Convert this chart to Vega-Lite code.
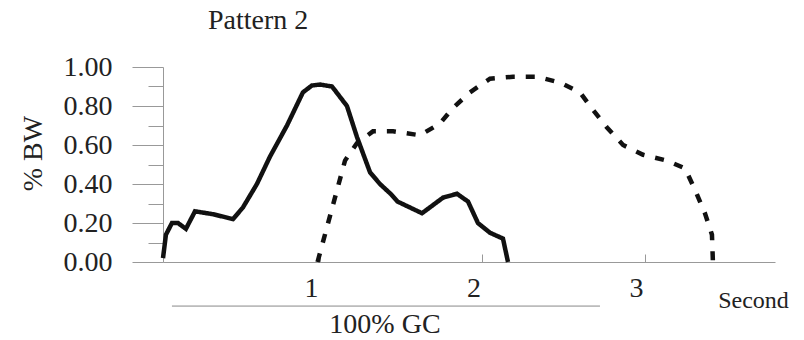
{
  "$schema": "https://vega.github.io/schema/vega-lite/v6.json",
  "width": 612,
  "height": 195,
  "autosize": "none",
  "padding": {"left": 163, "top": 67, "right": 29, "bottom": 78},
  "background": "white",
  "config": {"font": "Liberation Serif", "view": {"stroke": null}},
  "title": {"text": "Pattern 2", "anchor": "start", "frame": "group", "dx": 45, "offset": -4, "baseline": "alphabetic", "fontSize": 28, "fontWeight": "normal", "color": "#222", "font": "Liberation Serif"},
  "datasets": {
    "curves": [
      {"t": 0.034, "bw": 0.02, "series": "solid"},
      {"t": 0.052, "bw": 0.14, "series": "solid"},
      {"t": 0.089, "bw": 0.20, "series": "solid"},
      {"t": 0.126, "bw": 0.20, "series": "solid"},
      {"t": 0.175, "bw": 0.17, "series": "solid"},
      {"t": 0.231, "bw": 0.26, "series": "solid"},
      {"t": 0.342, "bw": 0.245, "series": "solid"},
      {"t": 0.465, "bw": 0.22, "series": "solid"},
      {"t": 0.526, "bw": 0.28, "series": "solid"},
      {"t": 0.612, "bw": 0.40, "series": "solid"},
      {"t": 0.692, "bw": 0.54, "series": "solid"},
      {"t": 0.797, "bw": 0.70, "series": "solid"},
      {"t": 0.895, "bw": 0.87, "series": "solid"},
      {"t": 0.95, "bw": 0.905, "series": "solid"},
      {"t": 1.0, "bw": 0.91, "series": "solid"},
      {"t": 1.074, "bw": 0.90, "series": "solid"},
      {"t": 1.166, "bw": 0.80, "series": "solid"},
      {"t": 1.228, "bw": 0.64, "series": "solid"},
      {"t": 1.308, "bw": 0.46, "series": "solid"},
      {"t": 1.369, "bw": 0.40, "series": "solid"},
      {"t": 1.434, "bw": 0.35, "series": "solid"},
      {"t": 1.477, "bw": 0.31, "series": "solid"},
      {"t": 1.628, "bw": 0.25, "series": "solid"},
      {"t": 1.757, "bw": 0.33, "series": "solid"},
      {"t": 1.843, "bw": 0.35, "series": "solid"},
      {"t": 1.911, "bw": 0.31, "series": "solid"},
      {"t": 1.972, "bw": 0.20, "series": "solid"},
      {"t": 2.046, "bw": 0.15, "series": "solid"},
      {"t": 2.126, "bw": 0.12, "series": "solid"},
      {"t": 2.157, "bw": 0.0, "series": "solid"},
      {"t": 0.985, "bw": 0.0, "series": "dashed"},
      {"t": 1.154, "bw": 0.52, "series": "dashed"},
      {"t": 1.228, "bw": 0.61, "series": "dashed"},
      {"t": 1.326, "bw": 0.67, "series": "dashed"},
      {"t": 1.45, "bw": 0.67, "series": "dashed"},
      {"t": 1.615, "bw": 0.65, "series": "dashed"},
      {"t": 1.738, "bw": 0.71, "series": "dashed"},
      {"t": 1.818, "bw": 0.79, "series": "dashed"},
      {"t": 1.923, "bw": 0.87, "series": "dashed"},
      {"t": 2.046, "bw": 0.94, "series": "dashed"},
      {"t": 2.188, "bw": 0.95, "series": "dashed"},
      {"t": 2.335, "bw": 0.95, "series": "dashed"},
      {"t": 2.477, "bw": 0.92, "series": "dashed"},
      {"t": 2.6, "bw": 0.87, "series": "dashed"},
      {"t": 2.68, "bw": 0.78, "series": "dashed"},
      {"t": 2.766, "bw": 0.69, "series": "dashed"},
      {"t": 2.865, "bw": 0.60, "series": "dashed"},
      {"t": 2.988, "bw": 0.55, "series": "dashed"},
      {"t": 3.135, "bw": 0.52, "series": "dashed"},
      {"t": 3.246, "bw": 0.48, "series": "dashed"},
      {"t": 3.308, "bw": 0.37, "series": "dashed"},
      {"t": 3.369, "bw": 0.25, "series": "dashed"},
      {"t": 3.412, "bw": 0.14, "series": "dashed"},
      {"t": 3.418, "bw": 0.0, "series": "dashed"}
    ],
    "bracket": [
      {"t": 0.089, "t2": 2.723, "bw": -0.226, "label": "100% GC", "tm": 1.40, "ly": -0.325}
    ]
  },
  "resolve": {"axis": {"y": "independent"}},
  "layer": [
    {
      "data": {"name": "curves"},
      "mark": {"type": "line", "strokeWidth": 4.5, "color": "#111", "clip": false},
      "encoding": {
        "x": {"field": "t", "type": "quantitative", "scale": {"domain": [0.034, 3.8], "nice": false, "zero": false},
          "axis": {"values": [1, 2, 3], "format": ".0f", "tickSize": -8, "tickColor": "#999", "domainColor": "#999", "grid": false,
            "labelFontSize": 28, "labelColor": "#222", "labelPadding": 20, "labelOffset": -9, "labelFont": "Liberation Serif",
            "title": "Second", "titleFontSize": 24, "titleFontWeight": "normal", "titleColor": "#222", "titleFont": "Liberation Serif",
            "titleX": 590, "titleY": 38, "titleAlign": "center", "titleBaseline": "middle"}},
        "y": {"field": "bw", "type": "quantitative", "scale": {"domain": [0, 1], "nice": false},
          "axis": {"values": [0, 0.2, 0.4, 0.6, 0.8, 1], "format": ".2f", "tickSize": 31, "labelPadding": 20, "tickColor": "#999", "domainColor": "#999", "grid": false,
            "labelFontSize": 28, "labelColor": "#222", "labelFont": "Liberation Serif",
            "title": "% BW", "titleX": -130, "titleY": 86, "titleAngle": -90, "titleFontSize": 28, "titleFontWeight": "normal", "titleColor": "#222", "titleFont": "Liberation Serif", "titleAlign": "center", "titleBaseline": "middle"}},
        "detail": {"field": "series"},
        "strokeDash": {"field": "series", "type": "nominal", "scale": {"domain": ["solid", "dashed"], "range": [[1, 0], [9, 11]]}, "legend": null}
      }
    },
    {
      "data": {"name": "bracket"},
      "mark": {"type": "rule", "color": "#888", "strokeWidth": 1, "clip": false},
      "encoding": {
        "x": {"field": "t", "type": "quantitative"},
        "x2": {"field": "t2"},
        "y": {"field": "bw", "type": "quantitative", "axis": {"orient": "left", "values": [0.1, 0.3, 0.5, 0.7, 0.9], "tickSize": 15, "labels": false, "domain": false, "tickColor": "#999", "title": null, "grid": false}}
      }
    },
    {
      "data": {"name": "bracket"},
      "mark": {"type": "text", "fontSize": 28, "color": "#222", "font": "Liberation Serif", "baseline": "middle", "align": "center", "clip": false},
      "encoding": {
        "x": {"field": "tm", "type": "quantitative"},
        "y": {"field": "ly", "type": "quantitative", "axis": null},
        "text": {"field": "label"}
      }
    }
  ]
}
